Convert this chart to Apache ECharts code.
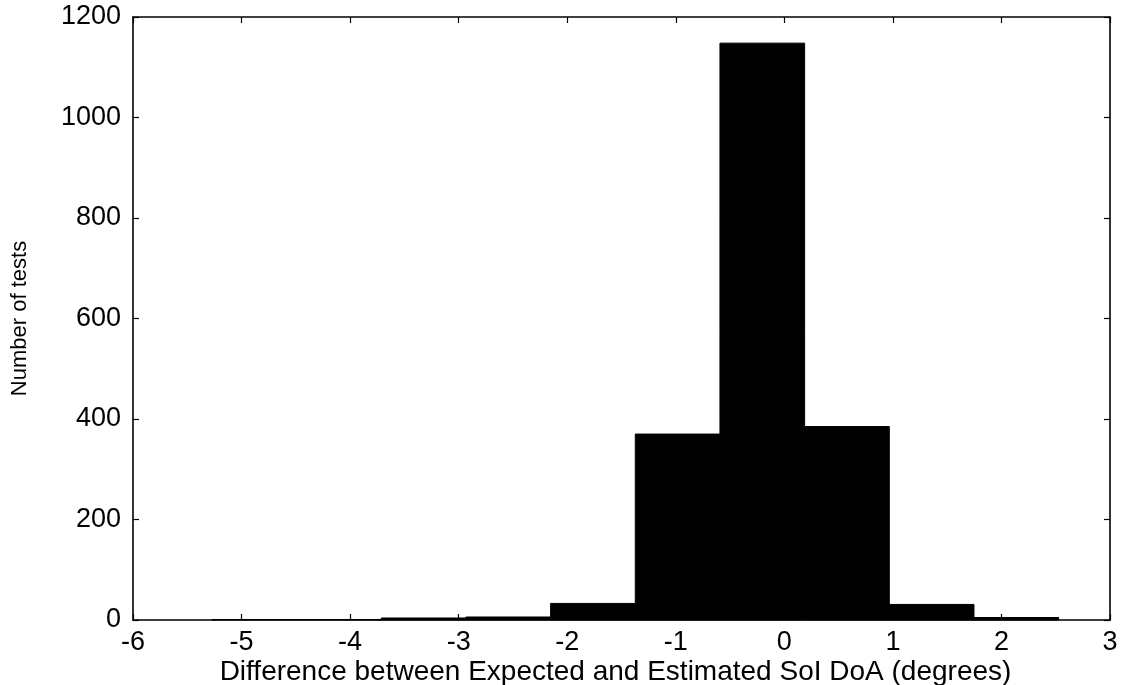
<!DOCTYPE html>
<html>
<head>
<meta charset="utf-8">
<title>Histogram of SoI DoA error</title>
<script src="https://cdn.jsdelivr.net/npm/echarts@6/dist/echarts.min.js"></script>
<style>
  html, body { margin: 0; padding: 0; background: #ffffff; }
  #chart { width: 1121px; height: 685px; }
</style>
</head>
<body>
<div id="chart"></div>
<script>
// Histogram bins (degrees): 10 equal-width bins
const binEdges = [-5.273, -4.493, -3.713, -2.933, -2.153, -1.373, -0.593, 0.187, 0.967, 1.747, 2.527];
// Number of tests falling in each bin
const counts = [1, 1, 4, 6, 33, 370, 1148, 385, 31, 5];
// Axis ticks
const xTicks = [-6, -5, -4, -3, -2, -1, 0, 1, 2, 3];
const yTicks = [0, 200, 400, 600, 800, 1000, 1200];

const xTitle = 'Difference between Expected and Estimated SoI DoA (degrees)';
const yTitle = 'Number of tests';

const bins = counts.map((c, i) => [binEdges[i], binEdges[i + 1], c]);

const font = '"Liberation Sans", Arial, Helvetica, sans-serif';
const ink = '#000000';

const chart = echarts.init(document.getElementById('chart'), null, { renderer: 'canvas' });

const tickCommon = { show: true, inside: true, length: 6, lineStyle: { color: ink, width: 1.2 } };
const lineCommon = { show: true, onZero: false, lineStyle: { color: ink, width: 1.6 } };
const plain = v => String(v);

chart.setOption({
  animation: false,
  backgroundColor: '#ffffff',
  grid: {
    left: 133, right: 11, top: 17, bottom: 65,
    containLabel: false,
    outerBoundsMode: 'none'
  },
  xAxis: [
    {
      type: 'value',
      position: 'bottom',
      min: xTicks[0],
      max: xTicks[xTicks.length - 1],
      interval: 1,
      axisLine: lineCommon,
      axisTick: tickCommon,
      splitLine: { show: false },
      axisLabel: { color: ink, fontFamily: font, fontSize: 27, margin: 9, formatter: plain },
      name: xTitle,
      nameLocation: 'middle',
      nameGap: 38,
      nameMoveOverlap: false,
      nameTextStyle: { color: ink, fontFamily: font, fontSize: 28, padding: [0, 12, 0, 0] }
    },
    {
      type: 'value',
      position: 'top',
      min: xTicks[0],
      max: xTicks[xTicks.length - 1],
      interval: 1,
      axisLine: lineCommon,
      axisTick: tickCommon,
      splitLine: { show: false },
      axisLabel: { show: false }
    }
  ],
  yAxis: [
    {
      type: 'value',
      position: 'left',
      min: yTicks[0],
      max: yTicks[yTicks.length - 1],
      interval: 200,
      axisLine: lineCommon,
      axisTick: tickCommon,
      splitLine: { show: false },
      axisLabel: { color: ink, fontFamily: font, fontSize: 27, margin: 12, formatter: plain },
      name: yTitle,
      nameLocation: 'middle',
      nameGap: 102,
      nameRotate: 90,
      nameMoveOverlap: false,
      nameTextStyle: { color: ink, fontFamily: font, fontSize: 22 }
    },
    {
      type: 'value',
      position: 'right',
      min: yTicks[0],
      max: yTicks[yTicks.length - 1],
      interval: 200,
      axisLine: lineCommon,
      axisTick: tickCommon,
      splitLine: { show: false },
      axisLabel: { show: false }
    }
  ],
  series: [
    {
      type: 'custom',
      xAxisIndex: 0,
      yAxisIndex: 0,
      data: bins,
      encode: { x: [0, 1], y: 2 },
      renderItem: function (params, api) {
        const p0 = api.coord([api.value(0), 0]);
        const p1 = api.coord([api.value(1), api.value(2)]);
        return {
          type: 'rect',
          shape: { x: p0[0], y: p1[1], width: p1[0] - p0[0], height: p0[1] - p1[1] },
          style: { fill: ink, stroke: ink, lineWidth: 1 }
        };
      }
    }
  ]
});
</script>
</body>
</html>
